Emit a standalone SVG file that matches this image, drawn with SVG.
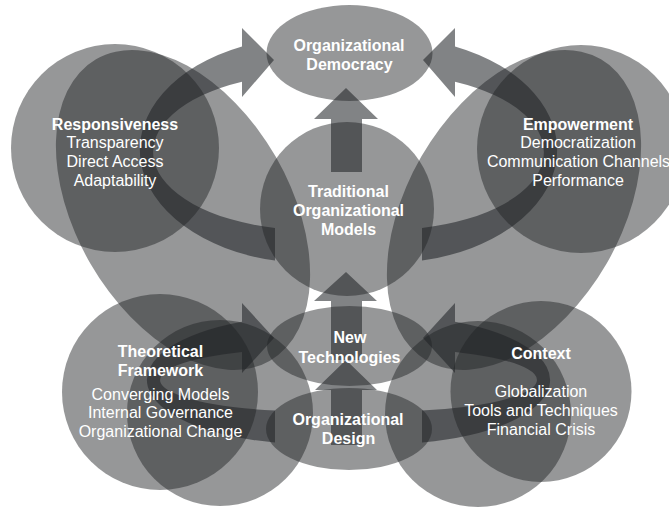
<svg xmlns="http://www.w3.org/2000/svg" width="669" height="508" viewBox="0 0 669 508">
<style>
.s{fill:#1f2125;fill-opacity:0.47}
.a{fill:#1f2125;fill-opacity:0.56}
text{font-family:"Liberation Sans",Arial,sans-serif;font-size:16px;fill:#fff;text-anchor:middle}
.b{font-weight:bold}
</style>
<rect width="669" height="508" fill="#fff"/>
<g id="decor">
<ellipse class="s" cx="183" cy="210" rx="174" ry="107" transform="rotate(60 183 210)"/>
<ellipse class="s" cx="514" cy="210" rx="174" ry="107" transform="rotate(-60 514 210)"/>
<circle class="s" cx="220" cy="413" r="93"/>
<circle class="s" cx="478" cy="414" r="93"/>
</g>
<g id="connectors">
<path class="a" d="M275,260.6 A170,113 0 0 1 242,46.4 L242,28 L274,60 L242,97 L242,81.7 A157,78 0 0 0 275,228 Z"/>
<path class="a" d="M422,260.6 A170,113 0 0 0 455,46.4 L455,28 L423,60 L455,97 L455,81.7 A157,78 0 0 1 422,228 Z"/>
<path class="a" d="M275,442.5 A163,64 0 0 1 242,321.8 L242,303 L274,338 L242,373 L242,351.9 A150,31.5 0 0 0 275,410.6 Z"/>
<path class="a" d="M422,442.5 A163,64 0 0 0 455,321.8 L455,303 L423,338 L455,373 L455,351.9 A150,31.5 0 0 1 422,410.6 Z"/>
<path class="a" d="M331,172 L331,119 L314,119 L346,88 L378,119 L362,119 L362,172 Z"/>
<path class="a" d="M331,360 L331,301 L314,301 L346,272 L377,301 L362,301 L362,360 Z"/>
<path class="a" d="M331,445 L331,390 L315,390 L346,360 L377,390 L362,390 L362,445 Z"/>
</g>
<g id="responsiveness">
<circle class="s" cx="115" cy="148" r="104"/>
<text class="b" x="115" y="129.5">Responsiveness</text>
<text x="115" y="148">Transparency</text>
<text x="115" y="167">Direct Access</text>
<text x="115" y="186">Adaptability</text>
</g>
<g id="empowerment">
<circle class="s" cx="581" cy="149" r="104"/>
<text class="b" x="578" y="129.5">Empowerment</text>
<text x="578" y="148">Democratization</text>
<text x="578.5" y="167">Communication Channels</text>
<text x="578" y="186">Performance</text>
</g>
<g id="theoretical">
<circle class="s" cx="160" cy="392" r="98"/>
<text class="b" x="160.5" y="357">Theoretical</text>
<text class="b" x="160.5" y="375.5">Framework</text>
<text x="160.5" y="399.5">Converging Models</text>
<text x="160.5" y="418">Internal Governance</text>
<text x="160.5" y="437">Organizational Change</text>
</g>
<g id="context">
<circle class="s" cx="541" cy="391.5" r="90.5"/>
<text class="b" x="541" y="358.5">Context</text>
<text x="541" y="397">Globalization</text>
<text x="541" y="416">Tools and Techniques</text>
<text x="541" y="435">Financial Crisis</text>
</g>
<g id="democracy">
<ellipse class="s" cx="349.5" cy="53" rx="83" ry="48"/>
<text class="b" x="349" y="50.5">Organizational</text>
<text class="b" x="349.5" y="70">Democracy</text>
</g>
<g id="traditional">
<circle class="s" cx="347" cy="209" r="87"/>
<text class="b" x="348.5" y="197">Traditional</text>
<text class="b" x="348.5" y="216">Organizational</text>
<text class="b" x="348.5" y="235">Models</text>
</g>
<g id="newtech">
<ellipse class="s" cx="349.5" cy="346" rx="82.5" ry="40"/>
<text class="b" x="350" y="343">New</text>
<text class="b" x="349.5" y="362.5">Technologies</text>
</g>
<g id="design">
<ellipse class="s" cx="349" cy="429" rx="83" ry="41"/>
<text class="b" x="348" y="424.5">Organizational</text>
<text class="b" x="348.5" y="443.5">Design</text>
</g>
</svg>
